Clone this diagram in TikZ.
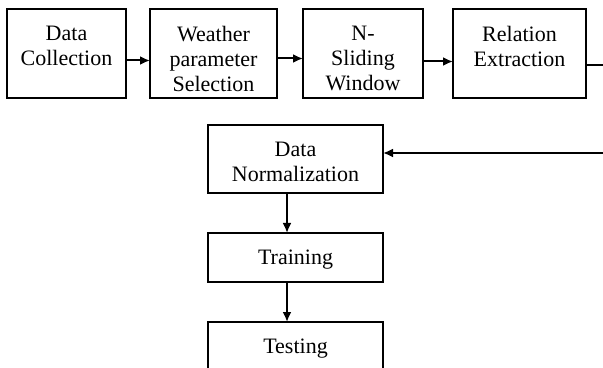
\documentclass[tikz,border=0pt]{standalone}
\usepackage{fontspec}
\setmainfont{Liberation Serif}
\usetikzlibrary{arrows.meta,positioning}

\begin{document}
\begin{tikzpicture}[>={Latex[length=5pt,width=4.5pt]},
                    line width = 1pt,
                    node distance = 20pt and 12pt,
                    box/.style = {draw, outer sep=0pt, minimum height=44.5pt},
                    flow/.style = {box, minimum width=87.5pt, minimum height=24.5pt},
                    txt/.style = {label={[anchor=north, yshift=-8pt]north:#1}},
                    every label/.append style = {font=\fontsize{11}{12.5}\selectfont, align=center, inner sep=0pt},
                    every edge/.append style = {line width=1pt}
                    ]
\useasboundingbox (0,0) rectangle (301.5pt,-184pt);
\clip (0,0) rectangle (301.5pt,-184pt);

% top row
\node[box, minimum width=59.5pt, txt={Data\\Collection}] (dc) at (33.25pt,-26.75pt) {};
\node[box, minimum width=63.5pt, txt={Weather\\parameter\\Selection},
      right=12pt of dc] (wps) {};
\node[box, minimum width=60pt, txt={N-\\Sliding\\Window},
      right=13pt of wps] (nsw) {};
\node[box, minimum width=66.5pt, txt={Relation\\Extraction},
      right=15pt of nsw] (re) {};

% lower column
\node[flow, minimum height=34pt, txt={Data\\Normalization}] (dn) at (147.75pt,-79.5pt) {};
\node[flow, txt={Training}, below=of dn] (tr) {};
\node[flow, txt={Testing}, below=of tr] (te) {};

\path[->]
    ([yshift=-3.5pt]dc.east)   edge ([yshift=-3.5pt]wps.west)
    ([yshift=-2.5pt]wps.east)  edge ([yshift=-2.5pt]nsw.west)
    ([yshift=-4pt]nsw.east)    edge ([yshift=-4pt]re.west)
    ([xshift=-4.25pt]dn.south) edge ([xshift=-4.25pt]tr.north)
    ([xshift=-4.25pt]tr.south) edge ([xshift=-4.25pt]te.north);

\draw[->] ([yshift=-5.75pt]re.east) -- ++(15pt,0) |- ([yshift=3pt]dn.east);
\end{tikzpicture}
\end{document}
